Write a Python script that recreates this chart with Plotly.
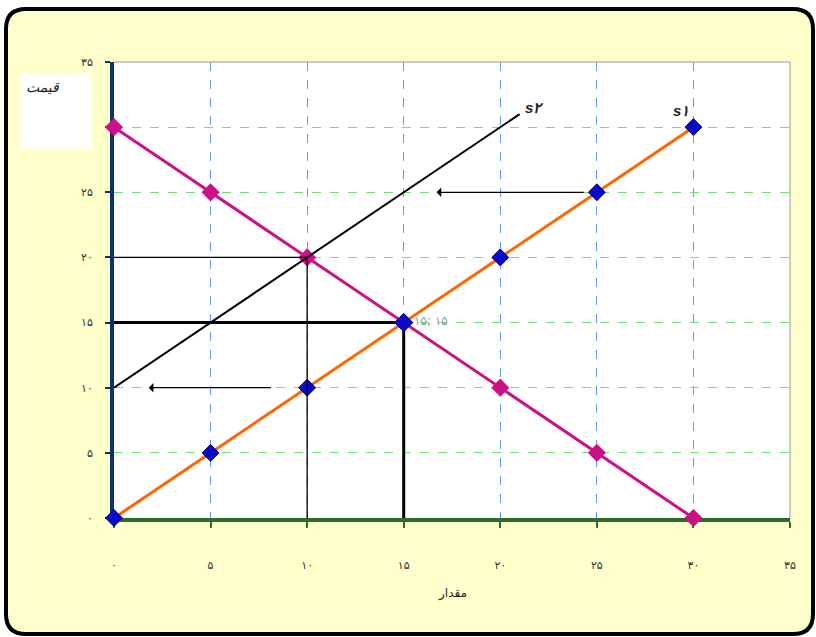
import plotly.graph_objects as go

# --- data -------------------------------------------------------------
quantity = [0, 5, 10, 15, 20, 25, 30]
demand_price = [30, 25, 20, 15, 10, 5, 0]
supply1_price = [0, 5, 10, 15, 20, 25, 30]
supply2_quantity = [0, 21]
supply2_price = [10, 31]
eq_old = (15, 15)      # D x S1
eq_new = (10, 20)      # D x S2
shift_arrows = [((24.4, 25), (16.7, 25)), ((8.2, 10), (1.8, 10))]
tick_values = [0, 5, 10, 15, 20, 25, 30, 35]

FA_DIGITS = str.maketrans("0123456789", "۰۱۲۳۴۵۶۷۸۹")


def fa(v):
    return str(v).translate(FA_DIGITS)


tick_text = [fa(v) for v in tick_values]

FONT = "DejaVu Sans"
W, H = 816, 637
L, R, T, B = 114, 26, 62, 119
PW, PH = W - L - R, H - T - B


def px(xp):
    return (xp - L) / PW


def py(yp):
    return (H - B - yp) / PH


fig = go.Figure()

# demand
fig.add_trace(go.Scatter(
    x=quantity, y=demand_price, mode="lines+markers",
    line=dict(color="#CC1188", width=3),
    marker=dict(symbol="diamond", size=14, color="#CC1188"),
    cliponaxis=False, hoverinfo="skip"))

# supply S1
fig.add_trace(go.Scatter(
    x=quantity, y=supply1_price, mode="lines+markers",
    line=dict(color="#FF6600", width=3),
    marker=dict(symbol="diamond", size=13, color="#0A0ACC",
                line=dict(color="#000066", width=1)),
    cliponaxis=False, hoverinfo="skip"))

# guide lines to the new equilibrium
fig.add_trace(go.Scatter(
    x=[0, eq_new[0], eq_new[0]], y=[eq_new[1], eq_new[1], 0],
    mode="lines", line=dict(color="black", width=1.3),
    cliponaxis=False, hoverinfo="skip"))

# guide lines to the old equilibrium
fig.add_trace(go.Scatter(
    x=[0, eq_old[0], eq_old[0]], y=[eq_old[1], eq_old[1], 0],
    mode="lines", line=dict(color="black", width=3),
    cliponaxis=False, hoverinfo="skip"))

# supply S2
fig.add_trace(go.Scatter(
    x=supply2_quantity, y=supply2_price, mode="lines",
    line=dict(color="black", width=2),
    cliponaxis=False, hoverinfo="skip"))

# equilibrium marker on top
fig.add_trace(go.Scatter(
    x=[eq_old[0]], y=[eq_old[1]], mode="markers",
    marker=dict(symbol="diamond", size=14, color="#0A0ACC",
                line=dict(color="#000066", width=1)),
    cliponaxis=False, hoverinfo="skip"))

annotations = []
for (x0, y0), (x1, y1) in shift_arrows:
    annotations.append(dict(
        x=x1, y=y1, ax=x0, ay=y0, xref="x", yref="y", axref="x", ayref="y",
        text="", showarrow=True, arrowhead=1, arrowsize=1.3,
        arrowwidth=1.2, arrowcolor="black"))

annotations += [
    dict(x=supply2_quantity[-1], y=supply2_price[-1], xref="x", yref="y",
         text="<b><i>s۲</i></b>", showarrow=False, xanchor="left",
         yanchor="middle", xshift=3, yshift=7,
         font=dict(family="Liberation Sans", size=15, color="#222")),
    dict(x=quantity[-1], y=supply1_price[-1], xref="x", yref="y",
         text="<b><i>s۱</i></b>", showarrow=False, xanchor="center",
         yanchor="bottom", xshift=-12, yshift=6,
         font=dict(family="Liberation Sans", size=15, color="#222")),
    dict(x=eq_old[0], y=eq_old[1], xref="x", yref="y",
         text=f"{fa(eq_old[0])}; {fa(eq_old[1])}", showarrow=False,
         xanchor="left", yanchor="middle", xshift=8, yshift=2,
         font=dict(family=FONT, size=12, color="#8A97A8")),
    # axis titles
    dict(x=px(20), y=py(73), xref="paper", yref="paper",
         text="<i>قیمت</i>", showarrow=False, xanchor="left", yanchor="top",
         width=60, height=64, align="left", valign="top", bgcolor="white",
         borderpad=5,
         font=dict(family=FONT, size=14, color="#222")),
    dict(x=0.5, y=py(593), xref="paper", yref="paper",
         text="مقدار", showarrow=False, xanchor="center", yanchor="middle",
         font=dict(family=FONT, size=12, color="#222")),
]

# frame: rounded yellow panel, white plot area, thin top/right border
x0p, x1p = px(6), px(813)
y1p, y0p = py(9), py(634)
rx, ry = 20 / PW, 20 / PH
panel = (f"M {x0p + rx},{y1p} L {x1p - rx},{y1p} Q {x1p},{y1p} {x1p},{y1p - ry} "
         f"L {x1p},{y0p + ry} Q {x1p},{y0p} {x1p - rx},{y0p} "
         f"L {x0p + rx},{y0p} Q {x0p},{y0p} {x0p},{y0p + ry} "
         f"L {x0p},{y1p - ry} Q {x0p},{y1p} {x0p + rx},{y1p} Z")
shapes = [
    dict(type="path", path=panel, xref="paper", yref="paper", layer="below",
         fillcolor="#FFFFCC", line=dict(color="black", width=4)),
    dict(type="rect", x0=0, x1=1, y0=0, y1=1, xref="paper", yref="paper",
         layer="below", fillcolor="white", line=dict(width=0)),
    dict(type="path", path="M 0,1 L 1,1 L 1,0", xref="paper", yref="paper",
         layer="above", line=dict(color="#999999", width=1)),
]

fig.update_layout(
    width=W, height=H,
    margin=dict(l=L, r=R, t=T, b=B, pad=0),
    paper_bgcolor="white", plot_bgcolor="white",
    showlegend=False,
    font=dict(family=FONT, size=10, color="#333"),
    annotations=annotations, shapes=shapes,
    xaxis=dict(range=[0, 35], tickvals=tick_values, ticktext=tick_text,
               showgrid=True, gridcolor="#6699FF", griddash="dash",
               gridwidth=1, zeroline=False,
               showline=True, linecolor="#2F6B2F", linewidth=4,
               ticks="outside", ticklen=6, tickwidth=2, tickcolor="#2F6B2F",
               ticklabelstandoff=28, layer="below traces",
               tickfont=dict(family=FONT, size=11, color="#333")),
    yaxis=dict(range=[0, 35], tickvals=tick_values, ticktext=tick_text,
               showgrid=True, gridcolor="#77DD77", griddash="dash",
               gridwidth=1, zeroline=False,
               showline=True, linecolor="#0B3366", linewidth=4,
               ticks="outside", ticklen=5, tickwidth=2, tickcolor="#0B3366",
               ticklabelstandoff=10, layer="below traces",
               tickfont=dict(family=FONT, size=11, color="#333")),
)

fig.write_html("out.html")
